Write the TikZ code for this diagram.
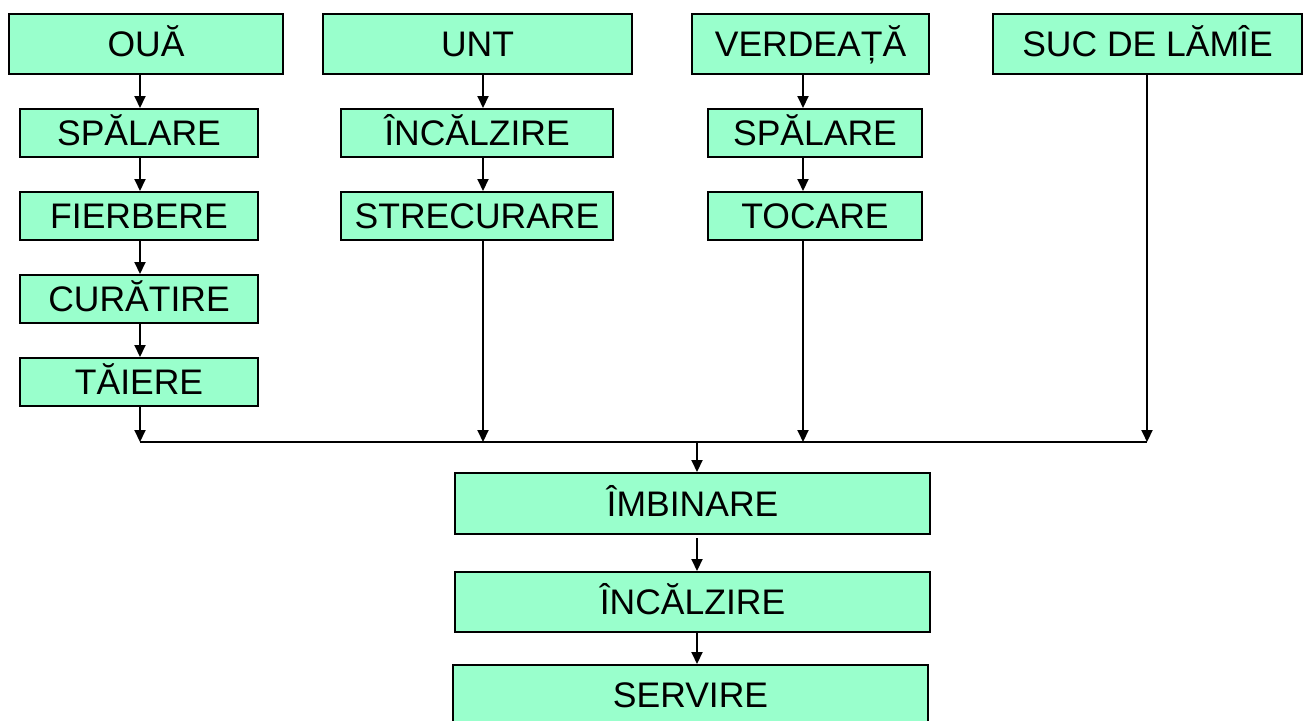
\documentclass[tikz,border=0pt]{standalone}
\usepackage{fontspec}
\setmainfont{Liberation Sans}
\usetikzlibrary{arrows.meta}
\definecolor{boxfill}{HTML}{99FFCC}
\begin{document}
\begin{tikzpicture}[x=1pt,y=-1pt,
  proc/.style={draw=black,line width=2pt,fill=boxfill,rectangle,inner sep=0pt,
    font=\fontsize{35.5}{38}\selectfont,text height=25.4pt,text depth=0pt},
  flow/.style={line width=2pt,-{Triangle[length=12pt,width=11pt]}},
  bus/.style={line width=2pt}]
\useasboundingbox (0,0) rectangle (1303,720);
% columns
\coordinate (c1) at (140,0);
\coordinate (c2) at (483,0);
\coordinate (c3) at (803,0);
\coordinate (c4) at (1147,0);
\coordinate (cm) at (697,0);
\coordinate (busy) at (0,442);
% top row
\node[proc,minimum width=274pt,minimum height=60pt] (oua) at (146,44) {OUĂ};
\node[proc,minimum width=309pt,minimum height=60pt] (unt) at (477.5,44) {UNT};
\node[proc,minimum width=237pt,minimum height=60pt] (verd) at (810.5,44) {VERDEAȚĂ};
\node[proc,minimum width=309pt,minimum height=60pt] (suc) at (1147.5,44) {SUC DE LĂMÎE};
% column 1
\node[proc,minimum width=238pt,minimum height=48pt] (spal1) at (139,133) {SPĂLARE};
\node[proc,minimum width=238pt,minimum height=48pt] (fier) at (139,216) {FIERBERE};
\node[proc,minimum width=238pt,minimum height=48pt] (cur) at (139,299) {CURĂTIRE};
\node[proc,minimum width=238pt,minimum height=48pt] (tai) at (139,382) {TĂIERE};
% column 2
\node[proc,minimum width=272pt,minimum height=48pt] (inc1) at (477,133) {ÎNCĂLZIRE};
\node[proc,minimum width=272pt,minimum height=48pt] (str) at (477,216) {STRECURARE};
% column 3
\node[proc,minimum width=214pt,minimum height=48pt] (spal2) at (815,133) {SPĂLARE};
\node[proc,minimum width=214pt,minimum height=48pt] (toc) at (815,216) {TOCARE};
% bottom
\node[proc,minimum width=475pt,minimum height=61pt] (imb) at (692.5,503.5) {ÎMBINARE};
\node[proc,minimum width=475pt,minimum height=60pt] (inc2) at (692.5,602) {ÎNCĂLZIRE};
\node[proc,minimum width=475pt,minimum height=60pt] (serv) at (690.5,695) {SERVIRE};
% bus coordinates
\coordinate (b1) at (c1 |- busy);
\coordinate (b2) at (c2 |- busy);
\coordinate (b3) at (c3 |- busy);
\coordinate (b4) at (c4 |- busy);
\coordinate (bm) at (cm |- busy);
% connectors
\draw[flow] (oua.south -| c1) -- (spal1.north -| c1);
\draw[flow] (spal1.south -| c1) -- (fier.north -| c1);
\draw[flow] (fier.south -| c1) -- (cur.north -| c1);
\draw[flow] (cur.south -| c1) -- (tai.north -| c1);
\draw[flow] (tai.south -| c1) -- (b1);
\draw[flow] (unt.south -| c2) -- (inc1.north -| c2);
\draw[flow] (inc1.south -| c2) -- (str.north -| c2);
\draw[flow] (str.south -| c2) -- (b2);
\draw[flow] (verd.south -| c3) -- (spal2.north -| c3);
\draw[flow] (spal2.south -| c3) -- (toc.north -| c3);
\draw[flow] (toc.south -| c3) -- (b3);
\draw[flow] (suc.south -| c4) -- (b4);
\draw[bus] (b1) -- (b4);
\draw[flow] (bm) -- (imb.north -| cm);
\draw[flow] ([yshift=-3pt]imb.south -| cm) -- (inc2.north -| cm);
\draw[flow] (inc2.south -| cm) -- (serv.north -| cm);
\end{tikzpicture}
\end{document}
